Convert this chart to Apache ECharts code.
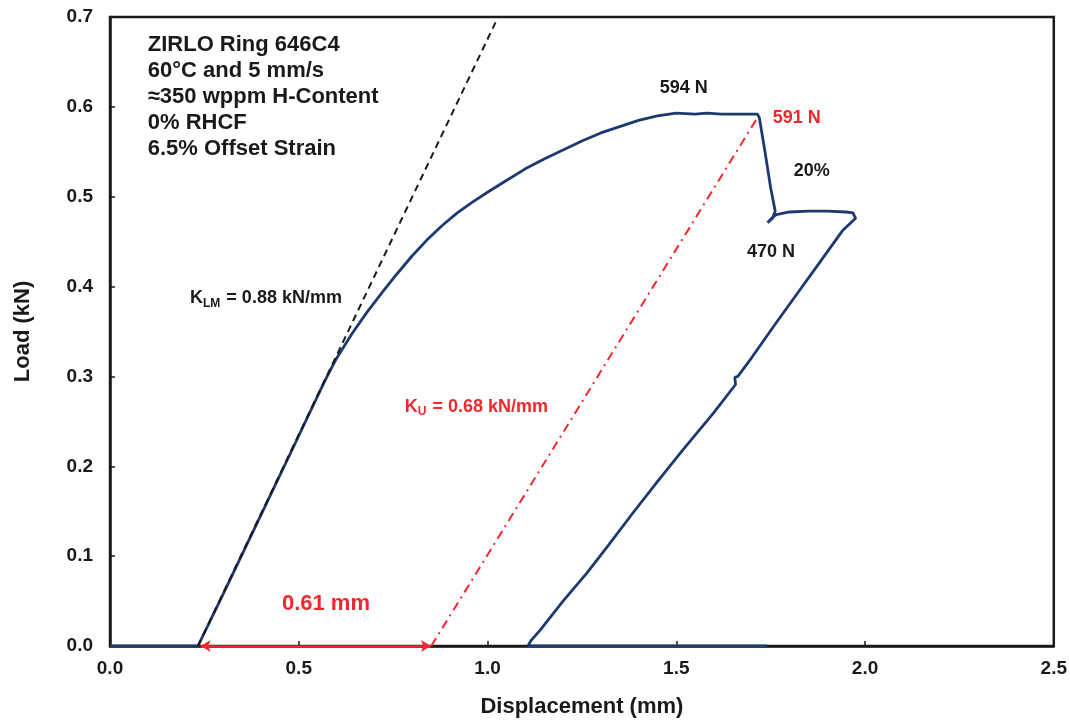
<!DOCTYPE html>
<html>
<head>
<meta charset="utf-8">
<script src="https://cdn.jsdelivr.net/npm/echarts@6/dist/echarts.min.js"></script>
<style>
  html, body { margin: 0; padding: 0; background: #fff; }
  #chart { width: 1070px; height: 723px; }
</style>
</head>
<body>
<div id="chart"></div>
<script>
// measured load-displacement trace (mm, kN)
const dispMm = [0, 0.233, 0.30, 0.40, 0.50, 0.569, 0.60, 0.64, 0.68, 0.72, 0.76, 0.80, 0.84, 0.88, 0.92, 0.96,
  1.00, 1.05, 1.10, 1.15, 1.20, 1.25, 1.30, 1.35, 1.40, 1.45, 1.50, 1.55, 1.58, 1.62, 1.66, 1.715,
  1.72, 1.735, 1.75, 1.762, 1.755, 1.742, 1.752, 1.765, 1.80, 1.85, 1.90, 1.95, 1.968,
  1.975, 1.94, 1.88, 1.82, 1.76, 1.70, 1.663, 1.655, 1.657, 1.60, 1.517, 1.45, 1.385, 1.32, 1.263, 1.20, 1.14, 1.115, 1.107, 1.74];
const loadKN = [0, 0, 0.058, 0.146, 0.234, 0.295, 0.320, 0.347, 0.371, 0.393, 0.414, 0.434, 0.452, 0.468, 0.482, 0.494,
  0.505, 0.518, 0.531, 0.542, 0.552, 0.562, 0.571, 0.578, 0.585, 0.590, 0.593, 0.592, 0.593, 0.592, 0.592, 0.592,
  0.588, 0.550, 0.510, 0.484, 0.476, 0.471, 0.476, 0.480, 0.483, 0.484, 0.484, 0.483, 0.482,
  0.476, 0.462, 0.427, 0.392, 0.357, 0.321, 0.300, 0.299, 0.291, 0.260, 0.218, 0.183, 0.148, 0.112, 0.081, 0.050, 0.018, 0.006, 0, 0];

// stiffness lines
const kLmX = [0.233, 1.028];
const kLmY = [0, 0.7];
const kUX = [0.851, 1.718];
const kUY = [0, 0.59];
// offset arrow
const offsetX = [0.24, 0.85];

// tick values
const xTicks = [0, 0.5, 1.0, 1.5, 2.0, 2.5];
const yTicks = [0, 0.1, 0.2, 0.3, 0.4, 0.5, 0.6, 0.7];

// annotations [x, y, text, color, align, size]
const notes = [
  [0.10, 0.611, 'ZIRLO Ring 646C4\n60°C and 5 mm/s\n≈350 wppm H-Content\n0% RHCF\n6.5% Offset Strain', '#1a1a1a', 'left', 22],
  [1.520, 0.621, '594 N', '#1a1a1a', 'center', 18],
  [1.819, 0.588, '591 N', '#f0282d', 'center', 18],
  [1.859, 0.529, '20%', '#1a1a1a', 'center', 18],
  [1.751, 0.438, '470 N', '#1a1a1a', 'center', 18],
  [0.212, 0.387, 'K{s|LM} = 0.88 kN/mm', '#1a1a1a', 'left', 18],
  [0.781, 0.266, 'K{rs|U} = 0.68 kN/mm', '#f0282d', 'left', 18],
  [0.572, 0.047, '0.61 mm', '#f0282d', 'center', 22]
];

const FONT = '"Liberation Sans", Arial, sans-serif';
const chart = echarts.init(document.getElementById('chart'));

const noteData = notes.map(n => ({
  value: [n[0], n[1]],
  label: {
    show: true,
    position: 'inside',
    formatter: n[2],
    color: n[3],
    align: n[4],
    verticalAlign: 'middle',
    fontSize: n[5],
    fontWeight: 'bold',
    fontFamily: FONT,
    lineHeight: n[5] === 22 ? 26 : 22,
    rich: {
      s: { fontSize: 12, fontWeight: 'bold', fontFamily: FONT, color: '#1a1a1a', padding: [10, 1, 0, 0] },
      rs: { fontSize: 12, fontWeight: 'bold', fontFamily: FONT, color: '#f0282d', padding: [10, 1, 0, 0] }
    }
  }
}));

chart.setOption({
  animation: false,
  grid: {
    left: 110, right: 16, top: 17, bottom: 77,
    show: true, borderColor: '#1a1a1a', borderWidth: 2.5, backgroundColor: '#fff'
  },
  xAxis: {
    type: 'value', min: 0, max: 2.5, interval: 0.5,
    name: 'Displacement (mm)', nameLocation: 'middle', nameGap: 50,
    nameTextStyle: { fontSize: 22, fontWeight: 'bold', fontFamily: FONT, color: '#1a1a1a' },
    axisLine: { show: true, onZero: false, lineStyle: { color: '#1a1a1a', width: 2.5 } },
    axisTick: { show: true, inside: true, length: 5, lineStyle: { color: '#1a1a1a', width: 1.5 } },
    axisLabel: {
      margin: 13, fontSize: 19, fontWeight: 'bold', fontFamily: FONT, color: '#1a1a1a',
      formatter: v => xTicks.includes(v) ? v.toFixed(1) : ''
    },
    splitLine: { show: false }
  },
  yAxis: {
    type: 'value', min: 0, max: 0.7, interval: 0.1,
    name: 'Load (kN)', nameLocation: 'middle', nameGap: 76, nameRotate: 90,
    nameTextStyle: { fontSize: 22, fontWeight: 'bold', fontFamily: FONT, color: '#1a1a1a' },
    axisLine: { show: true, lineStyle: { color: '#1a1a1a', width: 2.5 } },
    axisTick: { show: true, inside: true, length: 5, lineStyle: { color: '#1a1a1a', width: 1.5 } },
    axisLabel: {
      margin: 17, fontSize: 19, fontWeight: 'bold', fontFamily: FONT, color: '#1a1a1a',
      formatter: v => yTicks.some(t => Math.abs(t - v) < 1e-9) ? v.toFixed(1) : ''
    },
    splitLine: { show: false }
  },
  series: [
    {
      name: 'Load',
      type: 'line',
      data: dispMm.map((x, i) => [x, loadKN[i]]),
      showSymbol: false,
      lineStyle: { color: '#1d3a70', width: 2.8 },
      z: 3
    },
    {
      name: 'K_LM',
      type: 'line',
      data: kLmX.map((x, i) => [x, kLmY[i]]),
      showSymbol: false,
      clip: true,
      lineStyle: { color: '#1a1a1a', width: 2, type: [7, 5] },
      z: 4
    },
    {
      name: 'K_U',
      type: 'line',
      data: kUX.map((x, i) => [x, kUY[i]]),
      showSymbol: false,
      lineStyle: { color: '#f0282d', width: 2, type: [9, 5, 2, 5] },
      z: 4
    },
    {
      name: 'offset',
      type: 'line',
      data: [],
      markLine: {
        silent: true,
        symbol: ['arrow', 'arrow'],
        symbolSize: [9, 10],
        label: { show: false },
        lineStyle: { color: '#f0282d', width: 2.5, type: 'solid' },
        data: [[{ coord: [offsetX[0], 0] }, { coord: [offsetX[1], 0] }]]
      },
      z: 5
    },
    {
      name: 'notes',
      type: 'scatter',
      data: noteData,
      symbolSize: 1,
      itemStyle: { color: 'rgba(0,0,0,0)', opacity: 1 },
      z: 6
    }
  ]
});
</script>
</body>
</html>
